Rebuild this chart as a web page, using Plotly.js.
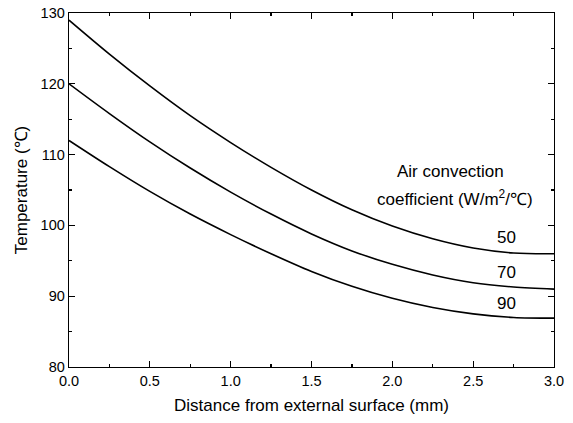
<!DOCTYPE html>
<html>
<head>
<meta charset="utf-8">
<script src="https://cdn.plot.ly/plotly-3.0.1.min.js"></script>
<style>html,body{margin:0;padding:0;background:#fff;}#chart{width:573px;height:423px;}</style>
</head>
<body>
<div id="chart"></div>
<script>
var distance = [0, 0.25, 0.5, 0.75, 1.0, 1.25, 1.5, 1.75, 2.0, 2.25, 2.5, 2.75, 3.0];
var temp50 = [129.0, 124.2, 119.7, 115.5, 111.7, 108.2, 105.0, 102.2, 99.9, 98.1, 96.8, 96.1, 96.0];
var temp70 = [120.0, 115.8, 111.8, 108.1, 104.7, 101.6, 98.8, 96.4, 94.5, 93.0, 91.9, 91.3, 91.0];
var temp90 = [112.0, 108.3, 104.8, 101.6, 98.7, 96.0, 93.5, 91.4, 89.7, 88.4, 87.5, 87.0, 86.9];
var seriesNames = ['50', '70', '90'];
var xTickVals = [0, 0.5, 1.0, 1.5, 2.0, 2.5, 3.0];
var xTickText = ['0.0', '0.5', '1.0', '1.5', '2.0', '2.5', '3.0'];
var yTickVals = [80, 90, 100, 110, 120, 130];

var fontFam = 'Liberation Sans, Arial, sans-serif';
var series = [temp50, temp70, temp90];
var traces = series.map(function(s, i){
  return {x: distance, y: s, type: 'scatter', mode: 'lines', name: seriesNames[i],
    line: {color: '#000', width: 1.6, shape: 'spline', smoothing: 0.9}, showlegend: false, hoverinfo: 'skip'};
});

var axisCommon = {
  showline: true, linecolor: '#000', linewidth: 1.3, mirror: 'allticks',
  ticks: 'inside', ticklen: 6, tickwidth: 1.3, tickcolor: '#000',
  showgrid: false, zeroline: false,
  tickfont: {family: fontFam, size: 14.5, color: '#000'},
  minor: {ticks: 'inside', ticklen: 3, tickwidth: 1.2, tickcolor: '#000', showgrid: false}
};

var layout = {
  width: 573, height: 423,
  margin: {l: 69, r: 19, t: 13, b: 56},
  paper_bgcolor: '#fff', plot_bgcolor: '#fff',
  font: {family: fontFam, color: '#000'},
  xaxis: Object.assign({}, axisCommon, {
    range: [0, 3.0], tickvals: xTickVals, ticktext: xTickText,
    minor: Object.assign({}, axisCommon.minor, {dtick: 0.25, tick0: 0}),
    title: {text: 'Distance from external surface (mm)', font: {family: fontFam, size: 17, color: '#000'}, standoff: 11}
  }),
  yaxis: Object.assign({}, axisCommon, {
    range: [80, 130], tickvals: yTickVals,
    minor: Object.assign({}, axisCommon.minor, {dtick: 5, tick0: 80}),
    title: {text: 'Temperature (℃)', font: {family: fontFam, size: 17, color: '#000'}, standoff: 8}
  }),
  annotations: [
    {x: 2.36, y: 107.6, text: 'Air convection', showarrow: false, xref: 'x', yref: 'y', font: {family: fontFam, size: 17, color: '#000'}},
    {x: 2.39, y: 103.9, text: 'coefficient (W/m<sup>2</sup>/℃)', showarrow: false, xref: 'x', yref: 'y', font: {family: fontFam, size: 17, color: '#000'}},
    {x: 2.705, y: 98.3, text: seriesNames[0], showarrow: false, xref: 'x', yref: 'y', font: {family: fontFam, size: 17, color: '#000'}},
    {x: 2.705, y: 93.3, text: seriesNames[1], showarrow: false, xref: 'x', yref: 'y', font: {family: fontFam, size: 17, color: '#000'}},
    {x: 2.705, y: 89.0, text: seriesNames[2], showarrow: false, xref: 'x', yref: 'y', font: {family: fontFam, size: 17, color: '#000'}}
  ]
};

Plotly.newPlot('chart', traces, layout, {displayModeBar: false, staticPlot: true});
</script>
</body>
</html>
